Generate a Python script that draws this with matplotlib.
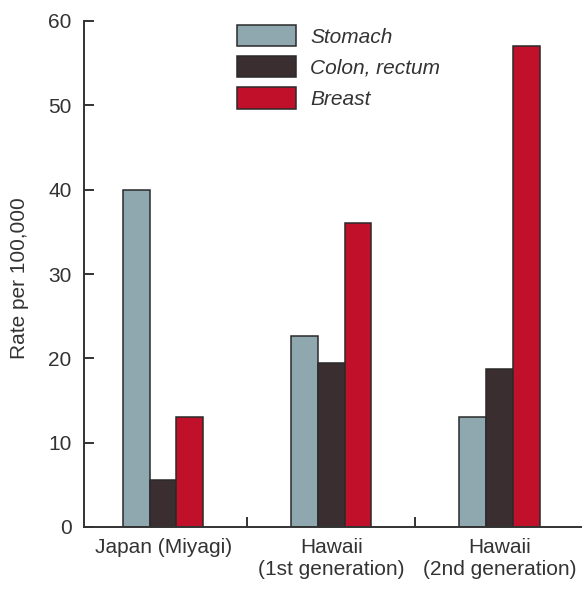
import matplotlib
matplotlib.use("Agg")
import matplotlib.pyplot as plt
import numpy as np

categories = ["Japan (Miyagi)", "Hawaii\n(1st generation)", "Hawaii\n(2nd generation)"]
series_names = ["Stomach", "Colon, rectum", "Breast"]
stomach = [40.0, 22.7, 13.0]
colon = [5.6, 19.4, 18.7]
breast = [13.0, 36.0, 57.0]
yticks = [0, 10, 20, 30, 40, 50, 60]

colors = ["#8fa8b0", "#3b2e30", "#c0102a"]

plt.rcParams['font.family'] = ['Liberation Sans', 'DejaVu Sans']
FS = 15

fig = plt.figure(figsize=(5.82, 5.89), dpi=100)
ax = fig.add_axes([84/582, 62/589, (582-84)/582, 506/589])

x = np.arange(len(categories))
w = 0.159
for i, (vals, name) in enumerate(zip([stomach, colon, breast], series_names)):
    ax.bar(x + (i - 1) * w, vals, width=w, color=colors[i], edgecolor="#2a2a2a",
           linewidth=1.1, label=name)

ax.set_xlim(-0.47, 2.49)
ax.set_ylim(0, 60)
ax.set_yticks(yticks)
ax.set_xticks([0.5, 1.5])
ax.set_xticklabels([])
for xi, lab in zip(x, categories):
    ax.annotate(lab, xy=(xi, 0), xycoords=('data', 'axes fraction'),
                xytext=(0, -8.0), textcoords='offset points', ha='center', va='top',
                fontsize=FS, color='#333333', linespacing=1.17)

for s in ['top', 'right']:
    ax.spines[s].set_visible(False)
for s in ['left', 'bottom']:
    ax.spines[s].set_linewidth(1.4)
    ax.spines[s].set_color('#333333')
ax.tick_params(axis='both', direction='in', length=7.5, width=1.4, color='#333333',
               labelsize=FS, labelcolor='#333333')
ax.tick_params(axis='y', pad=9)
ax.set_ylabel("Rate per 100,000", fontsize=FS, color='#333333')
ax.yaxis.set_label_coords((29 - 84) / 498, 0.491)

leg = ax.legend(loc='upper left', bbox_to_anchor=(237/582, 1 - 25/589), bbox_transform=fig.transFigure,
                frameon=False, fontsize=FS, handlelength=2.84, handleheight=1.2,
                labelspacing=0.45, handletextpad=0.67, borderpad=0, borderaxespad=0)
for t in leg.get_texts():
    t.set_fontstyle('italic')
    t.set_color('#333333')

fig.savefig("out.png", dpi=100)
